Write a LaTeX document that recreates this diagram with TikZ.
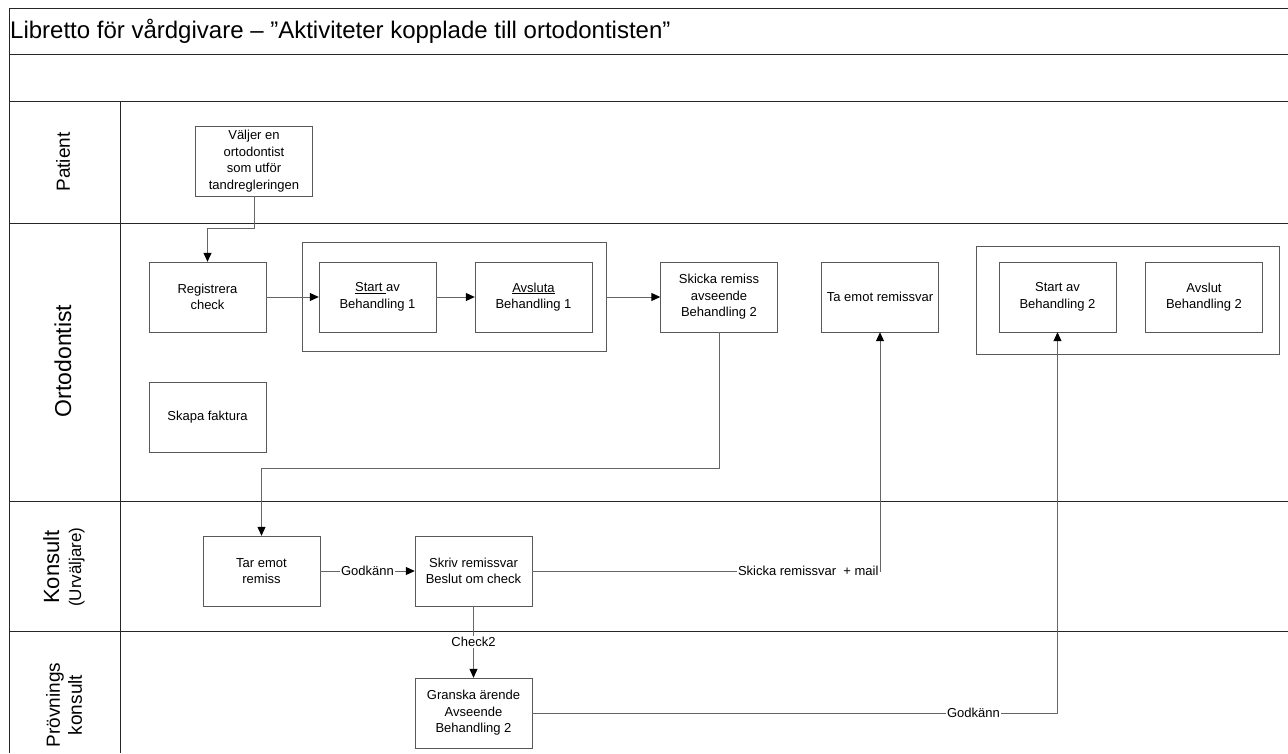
\documentclass[tikz,border=0pt]{standalone}
\usepackage{fontspec}
\setmainfont{Liberation Sans}
\usetikzlibrary{arrows.meta}

\begin{document}
\begin{tikzpicture}[x=1pt,y=-1pt,
	box/.style={draw=black!65,fill=white,minimum width=117pt,minimum height=70pt,inner sep=1pt,align=center,font=\fontsize{13}{16.5}\selectfont},
	group/.style={draw=black!65,inner sep=0pt},
	lane/.style={draw=black!85,line width=1pt},
	lanename/.style={rotate=90,align=center,font=\fontsize{19}{22}\selectfont},
	arr/.style={draw=black!60,line width=1pt,-{Triangle[length=9pt,width=8pt,color=black]}},
	line/.style={draw=black!60,line width=1pt},
	lbl/.style={fill=white,inner sep=1pt,font=\fontsize{13}{15}\selectfont}]

	\useasboundingbox (0,0) rectangle (1288,753);

	\foreach \y in {8,54,101,223,501,631}{
		\draw[lane] (9,\y) -- (1288,\y);
	}
	\draw[lane] (9,8) -- (9,753);
	\draw[lane] (120,101) -- (120,753);

	\node[anchor=west,inner sep=0pt,font=\fontsize{24}{27}\selectfont] (title) at (10,31) {Libretto för vårdgivare – ”Aktiviteter kopplade till ortodontisten”};

	\node[lanename] (patient) at (63,162) {Patient};
	\node[lanename,font=\fontsize{23}{26}\selectfont] (ortodontist) at (63,361) {Ortodontist};
	\node[lanename] (konsult) at (64,567) {{\fontsize{22}{22}\selectfont Konsult}\\{\fontsize{17}{19}\selectfont (Urväljare)}};
	\node[lanename] (provning) at (64,705) {Prövnings\\konsult};

	\node[group,minimum width=304pt,minimum height=109pt] (behandling1) at (454,296.5) {};
	\node[group,minimum width=303pt,minimum height=108pt] (behandling2) at (1127.5,300) {};

	\node[box] (valjer) at (254,161) {Väljer en\\ortodontist\\som utför\\tandregleringen};
	\node[box] (registrera) at (207.5,297) {Registrera\\check};
	\node[box] (start1) at (377.5,297) {\underline{Start }av\\Behandling 1};
	\node[box] (avsluta1) at (533.5,297) {\underline{Avsluta}\\Behandling 1};
	\node[box] (skicka) at (719,297) {Skicka remiss\\avseende\\Behandling 2};
	\node[box] (taemot) at (880,297) {Ta emot remissvar};
	\node[box] (start2) at (1057.5,297) {Start av\\Behandling 2};
	\node[box] (avslut2) at (1204,297) {Avslut\\Behandling 2};
	\node[box] (faktura) at (207.5,417) {Skapa faktura};
	\node[box] (taremot) at (261.5,571) {Tar emot\\remiss};
	\node[box] (skriv) at (473.5,571) {Skriv remissvar\\Beslut om check};
	\node[box] (granska) at (473.5,713) {Granska ärende\\Avseende\\Behandling 2};

	\draw[arr] (valjer.south) -- ++(0,32) -| (registrera.north);
	\draw[arr] (registrera) -- (start1);
	\draw[arr] (start1) -- (avsluta1);
	\draw[arr] (behandling1.east |- skicka.west) -- (skicka.west);
	\draw[arr] (skicka.south) -- ++(0,136) -| (taremot.north);
	\draw[arr] (taremot.east) -- (skriv.west) node[midway,lbl] {Godkänn};
	\draw[arr] (skriv.south) -- (granska.north) node[midway,lbl] {Check2};
	\draw[arr] (skriv.east) -| (taemot.south) node[pos=0.5,anchor=east,lbl] {Skicka remissvar \ + mail};
	\draw[arr] (granska.east) -| (start2.south) node[pos=0.42,lbl] {Godkänn};
\end{tikzpicture}
\end{document}
